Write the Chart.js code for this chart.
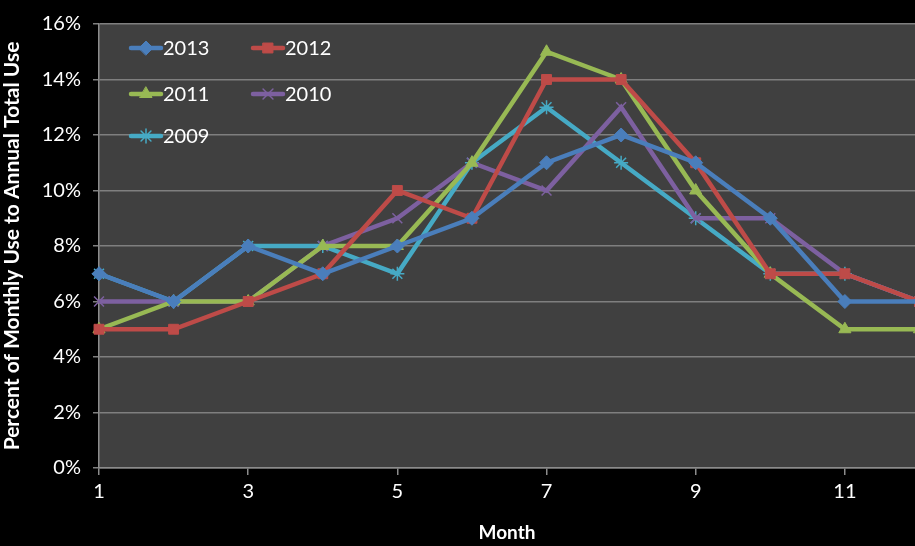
<!DOCTYPE html>
<html>
<head>
<meta charset="utf-8">
<script src="https://cdn.jsdelivr.net/npm/chart.js@4/dist/chart.umd.min.js"></script>
<style>
  html, body { margin: 0; padding: 0; background: #000; }
  canvas { display: block; }
</style>
</head>
<body>
<canvas id="chart" width="915" height="546"></canvas>
<script>
const months = [1, 2, 3, 4, 5, 6, 7, 8, 9, 10, 11, 12];
const y2013 = [7, 6, 8, 7, 8, 9, 11, 12, 11, 9, 6, 6];
const y2012 = [5, 5, 6, 7, 10, 9, 14, 14, 11, 7, 7, 6];
const y2011 = [5, 6, 6, 8, 8, 11, 15, 14, 10, 7, 5, 5];
const y2010 = [6, 6, 6, 8, 9, 11, 10, 13, 9, 9, 7, 6];
const y2009 = [7, 6, 8, 8, 7, 11, 13, 11, 9, 7, 7, 6];
const xTicks = [1, 3, 5, 7, 9, 11];

const FONT = 'Lato, "Open Sans", sans-serif';

function series(label, values, color, style) {
  return {
    label: label,
    data: months.map((m, i) => ({ x: m, y: values[i] })),
    borderColor: color,
    backgroundColor: color,
    pointBorderColor: color,
    pointBackgroundColor: color,
    borderWidth: 4.5,
    pointStyle: style,
    pointRadius: 7,
    pointBorderWidth: style === 'crossRot' || style === 'star' ? 1.5 : 1,
    tension: 0,
    clip: false,
  };
}

const datasets = [
  series('2013', y2013, '#4a7ebb', 'rectRot'),
  series('2012', y2012, '#be4b48', 'rect'),
  series('2011', y2011, '#98b954', 'triangle'),
  series('2010', y2010, '#7d60a0', 'crossRot'),
  series('2009', y2009, '#46aac5', 'star'),
];

// plot background
const plotBg = {
  id: 'plotBg',
  beforeDraw(chart) {
    const { ctx, chartArea: a } = chart;
    ctx.save();
    ctx.fillStyle = '#000';
    ctx.fillRect(0, 0, chart.width, chart.height);
    ctx.fillStyle = '#404040';
    ctx.fillRect(a.left, a.top, a.right - a.left, a.bottom - a.top);
    ctx.restore();
  },
};

// legend sits inside the plot, two columns
const legendSpots = [[131, 48], [253, 48], [131, 94], [253, 94], [131, 136]];

const insideLegend = {
  id: 'insideLegend',
  afterDatasetsDraw(chart) {
    const ctx = chart.ctx;
    ctx.save();
    chart.data.datasets.forEach((ds, i) => {
      const [x, y] = legendSpots[i];
      ctx.strokeStyle = ds.borderColor;
      ctx.lineWidth = 4.5;
      ctx.lineCap = 'round';
      ctx.beginPath();
      ctx.moveTo(x, y);
      ctx.lineTo(x + 30, y);
      ctx.stroke();
      ctx.fillStyle = ds.borderColor;
      ctx.lineWidth = ds.pointBorderWidth;
      Chart.helpers.drawPoint(ctx, { pointStyle: ds.pointStyle, radius: 7, rotation: 0, borderWidth: ds.pointBorderWidth }, x + 15, y);
      ctx.fillStyle = '#fff';
      ctx.font = '20px ' + FONT;
      ctx.textBaseline = 'middle';
      ctx.textAlign = 'left';
      ctx.fillText(ds.label, x + 32, y + 1);
    });
    ctx.restore();
  },
};

new Chart(document.getElementById('chart'), {
  type: 'line',
  data: { datasets: datasets },
  plugins: [plotBg, insideLegend],
  options: {
    responsive: false,
    animation: false,
    layout: { autoPadding: false, padding: { top: 14, right: 0, left: 0, bottom: 0 } },
    plugins: {
      legend: { display: false },
      tooltip: { enabled: false },
    },
    scales: {
      x: {
        type: 'linear',
        min: 1,
        max: 11.94,
        afterFit: (s) => { s.height = 78; },
        ticks: {
          stepSize: 2,
          color: '#fff',
          font: { family: FONT, size: 20 },
          padding: 5,
          maxRotation: 0,
          autoSkip: false,
        },
        afterBuildTicks: (s) => {
          s.ticks = xTicks.map((v) => ({ value: v }));
        },
        grid: {
          display: true,
          drawOnChartArea: false,
          drawTicks: true,
          tickLength: 7,
          color: '#8c8c8c',
          lineWidth: 1.5,
        },
        border: { display: true, color: '#8c8c8c', width: 1.5 },
        title: {
          display: true,
          text: 'Month',
          color: '#fff',
          font: { family: FONT, size: 19, weight: 'bold' },
          padding: { top: 0, bottom: 2 },
        },
      },
      y: {
        min: 0,
        max: 16,
        afterFit: (s) => { s.width = 99; },
        ticks: {
          stepSize: 2,
          color: '#fff',
          font: { family: FONT, size: 20 },
          padding: 12,
          callback: (v) => v + '%',
        },
        grid: {
          color: '#7f7f7f',
          lineWidth: 1.5,
          drawTicks: true,
          tickLength: 6,
        },
        border: { display: true, color: '#8c8c8c', width: 1.5 },
        title: {
          display: true,
          text: 'Percent of Monthly Use to Annual Total Use',
          color: '#fff',
          font: { family: FONT, size: 21, weight: 'bold' },
          padding: { top: 0, bottom: 0 },
        },
      },
    },
  },
});
</script>
</body>
</html>
